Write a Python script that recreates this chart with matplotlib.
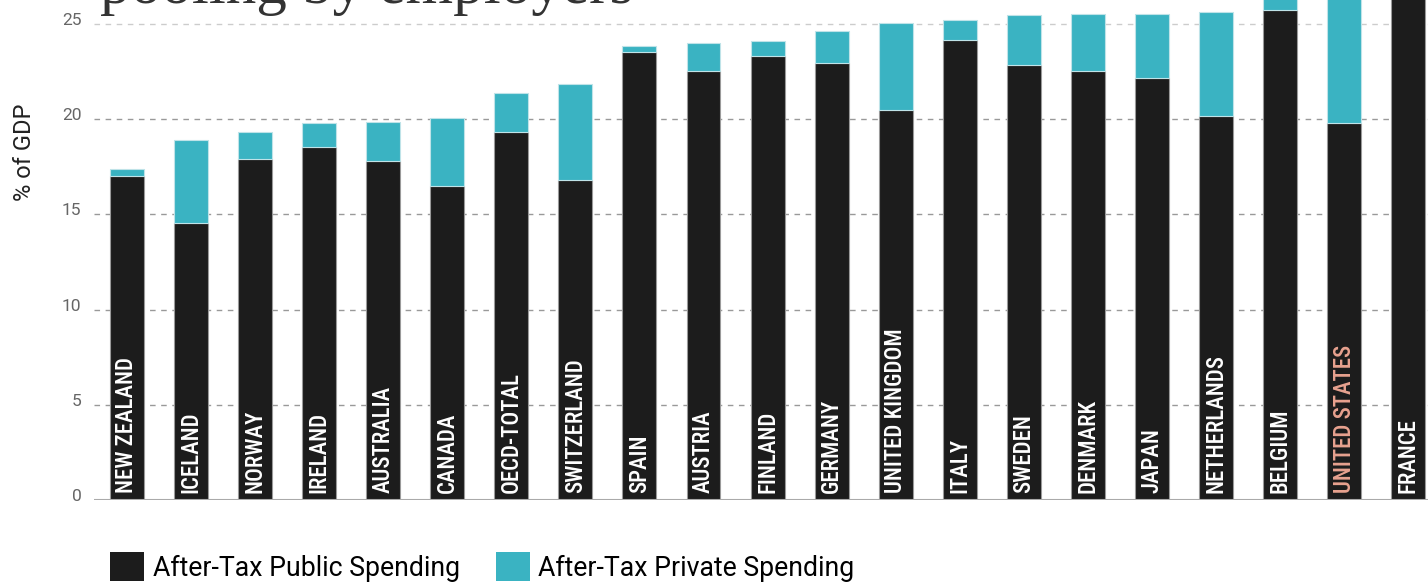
import matplotlib.pyplot as plt
from matplotlib.patches import Patch
from matplotlib.transforms import ScaledTranslation

countries = ["NEW ZEALAND", "ICELAND", "NORWAY", "IRELAND", "AUSTRALIA", "CANADA",
             "OECD-TOTAL", "SWITZERLAND", "SPAIN", "AUSTRIA", "FINLAND", "GERMANY",
             "UNITED KINGDOM", "ITALY", "SWEDEN", "DENMARK", "JAPAN", "NETHERLANDS",
             "BELGIUM", "UNITED STATES", "FRANCE"]
public = [17.0, 14.55, 17.9, 18.55, 17.8, 16.5, 19.35, 16.8, 23.55, 22.55, 23.3, 22.95,
          20.5, 24.15, 22.85, 22.55, 22.15, 20.15, 25.75, 19.8, 31.0]
private = [0.4, 4.35, 1.45, 1.25, 2.05, 3.55, 2.05, 5.05, 0.3, 1.45, 0.8, 1.7,
           4.55, 1.05, 2.6, 2.95, 3.35, 5.5, 0.85, 9.0, 0.7]
yticks = [0, 5, 10, 15, 20, 25]

black = "#1c1c1c"
teal = "#3ab3c2"

plt.rcParams["font.family"] = ["Roboto", "DejaVu Sans"]

fig = plt.figure(figsize=(14.28, 5.83), dpi=100)
ax = fig.add_axes([94 / 1428, 83 / 583, 1 - 94 / 1428, 500 / 583])

x = list(range(len(countries)))
ax.bar(x, public, width=0.53, color=black, edgecolor="#9a9a9a", linewidth=0.8, zorder=2)
ax.bar(x, private, bottom=public, width=0.53, color=teal, edgecolor="#bfe3e8",
       linewidth=0.8, zorder=2)

# country names run up the inside of each bar
for i, name in enumerate(countries):
    col = "#e8a28f" if name == "UNITED STATES" else "white"
    ax.text(i, 0.35, name, rotation=90, ha="center", va="bottom", color=col,
            fontsize=16.5, fontweight="medium", zorder=3,
            family=["Liberation Sans Narrow", "Roboto Condensed", "Roboto"])

for t in yticks[1:]:
    ax.axhline(t, color="#cccccc" if t == 25 else "#999999", lw=1,
               ls=(0, (4, 4)), zorder=1)
ax.axhline(0, color="#aaaaaa", lw=1.5, zorder=3)

ax.set_xlim(-0.515, 20.31)
ax.set_ylim(0, 26.26)
ax.set_yticks(yticks)
ax.tick_params(axis="y", length=0, pad=9, labelsize=12.5, labelcolor="#666666")
ax.tick_params(axis="x", length=0, labelbottom=False)
for lab in ax.get_yticklabels():
    lab.set_transform(lab.get_transform() + ScaledTranslation(0, 5 / 100, fig.dpi_scale_trans))
for s in ax.spines.values():
    s.set_visible(False)

fig.text(25 / 1428, 1 - 152 / 583, "% of GDP", rotation=90, ha="center", va="center",
         fontsize=17, color="#222222")

fig.text(100 / 1428, 1 - 3 / 583, "pooling by employers", ha="left", va="baseline",
         fontsize=44, color="#333333", family="Liberation Serif")

handles = [Patch(facecolor=black, edgecolor="none", label="After-Tax Public Spending"),
           Patch(facecolor=teal, edgecolor="none", label="After-Tax Private Spending")]
fig.legend(handles=handles, loc="center left", bbox_to_anchor=(110 / 1428, 16 / 583),
           ncol=2, frameon=False, fontsize=19.2, handlelength=1.28, handleheight=1.28,
           handletextpad=0.33, columnspacing=1.33, borderaxespad=0, borderpad=0)

fig.savefig("out.png", dpi=100)
